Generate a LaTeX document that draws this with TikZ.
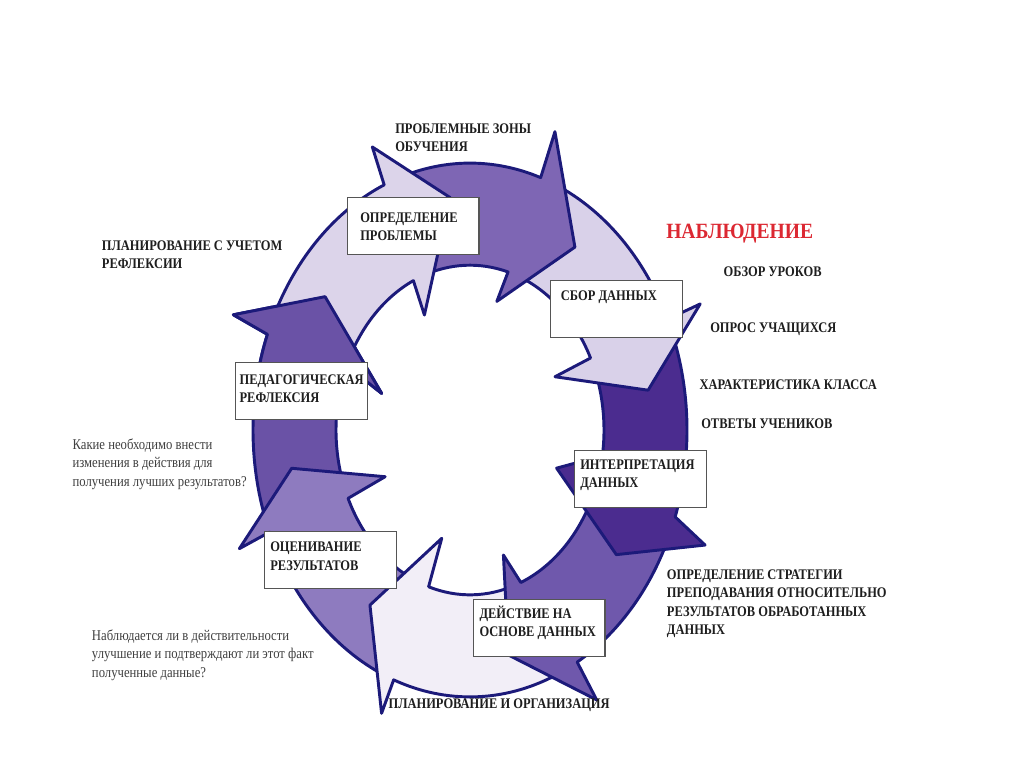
\documentclass[tikz,border=0pt]{standalone}
\usepackage{fontspec}
\setmainfont{Liberation Serif}
\newfontfamily\lblfont[FakeStretch=0.85]{Liberation Serif}
\newfontfamily\ttlfont[FakeStretch=0.9]{Liberation Serif}
\definecolor{ringline}{HTML}{1C1A7A}
\definecolor{boxline}{HTML}{555555}
\definecolor{lblcol}{HTML}{1E1E1E}
\definecolor{qcol}{HTML}{404040}
\definecolor{titlered}{HTML}{DC2832}
\definecolor{cA}{HTML}{DCD4EA}
\definecolor{cB}{HTML}{7E66B4}
\definecolor{cC}{HTML}{D9D1E9}
\definecolor{cD}{HTML}{4B2C8F}
\definecolor{cE}{HTML}{6F58AC}
\definecolor{cF}{HTML}{F2EEF7}
\definecolor{cG}{HTML}{8E7BBF}
\definecolor{cH}{HTML}{6A52A6}
\newcommand{\Ro}{217}
\newcommand{\Ri}{134}
% color, tail outer angle, tail inner angle, outer notch angle, outer barb, tip, inner barb, inner notch angle
\newcommand{\ringarrow}[8]{%
  \draw[ring, fill=#1] (#2:\Ro) arc[start angle=#2, end angle=#4, radius=\Ro]
    -- (#5) -- (#6) -- (#7) -- (#8:\Ri) arc[start angle=#8, end angle=#3, radius=\Ri] -- cycle;}
\begin{document}
\begin{tikzpicture}[x=0.75pt,y=-0.75pt,
  ring/.style={draw=ringline, line width=2.2pt, line join=round},
  box/.style={draw=boxline, line width=0.8pt, fill=white, inner sep=0pt, anchor=north west,
              minimum width=98.8pt, minimum height=43pt},
  lbl/.style={font=\lblfont\bfseries\fontsize{11}{13}\selectfont, text=lblcol, inner sep=0pt, anchor=base west},
  qst/.style={font=\lblfont\fontsize{11.2}{13}\selectfont, text=qcol, inner sep=0pt, anchor=base west},
  ttl/.style={font=\ttlfont\bfseries\fontsize{16.3}{18}\selectfont, text=titlered, inner sep=0pt, anchor=base west}]
\useasboundingbox (0,0) rectangle (1024,768);
\fill[white] (0,0) rectangle (1024,768);

\begin{scope}[shift={(470,430)}, yscale=-1.23]
  % drawn in reverse order so each head lies over the next tail
  \ringarrow{cH}{200}{200}{159}{158.4:254.5}{143.2:181}{161.4:93.2}{157}
  \ringarrow{cG}{247}{247}{202.5}{202.7:250}{189.9:181}{204.1:93}{204.5}
  \ringarrow{cF}{293}{290}{249.4}{249:246.7}{234.9:174}{252.2:92.5}{252}
  \ringarrow{cE}{336}{336}{299.6}{300:253.4}{281.9:187}{288.2:107}{292.3}
  \ringarrow{cD}{22}{22}{-19}{-21.7:253}{-34.7:178}{-19.7:92}{-9}
  \ringarrow{cC}{70}{72}{24.5}{24:252}{10.3:181}{27:95.4}{25.9}
  \ringarrow{cB}{110}{111}{71}{70.7:257}{54.8:182}{75.6:108}{73.5}
  \ringarrow{cA}{155}{155}{113.3}{113:250}{96:190}{116:104}{115}
  \begin{scope}
    \clip (0,0) -- (133:330) -- (150:340) -- (168:330) -- cycle;
    \ringarrow{cH}{200}{200}{159}{158.4:254.5}{143.2:181}{161.4:93.2}{157}
  \end{scope}
\end{scope}

% boxes
\node[box] (b1) at (346.7,196.7) {};
\node[box] (b2) at (550,280) {};
\node[box] (b3) at (235,361.7) {};
\node[box] (b4) at (574,450) {};
\node[box] (b5) at (264.3,531) {};
\node[box] (b6) at (472.7,599) {};

\node[lbl] (t1a) at (360,222.3) {ОПРЕДЕЛЕНИЕ};
\node[lbl] (t1b) at (360,240.3) {ПРОБЛЕМЫ};
\node[lbl] (t2a) at (560.7,300) {СБОР ДАННЫХ};
\node[lbl] (t3a) at (239.3,384) {ПЕДАГОГИЧЕСКАЯ};
\node[lbl] (t3b) at (239.3,402.3) {РЕФЛЕКСИЯ};
\node[lbl] (t4a) at (580,469) {ИНТЕРПРЕТАЦИЯ};
\node[lbl] (t4b) at (580,487) {ДАННЫХ};
\node[lbl] (t5a) at (270,551.7) {ОЦЕНИВАНИЕ};
\node[lbl] (t5b) at (270,570) {РЕЗУЛЬТАТОВ};
\node[lbl] (t6a) at (479.3,618.3) {ДЕЙСТВИЕ НА};
\node[lbl] (t6b) at (479.3,636.7) {ОСНОВЕ ДАННЫХ};

% outer labels
\node[lbl] (p1) at (395,133) {ПРОБЛЕМНЫЕ ЗОНЫ};
\node[lbl] (p2) at (395,151) {ОБУЧЕНИЯ};
\node[ttl] (nab) at (666,238.5) {НАБЛЮДЕНИЕ};
\node[lbl] (o1) at (723.3,276) {ОБЗОР УРОКОВ};
\node[lbl] (o2) at (710,332.7) {ОПРОС УЧАЩИХСЯ};
\node[lbl] (o3) at (699.3,389) {ХАРАКТЕРИСТИКА КЛАССА};
\node[lbl] (o4) at (701,428.3) {ОТВЕТЫ УЧЕНИКОВ};
\node[lbl] (s1) at (666.7,579.5) {ОПРЕДЕЛЕНИЕ СТРАТЕГИИ};
\node[lbl] (s2) at (666.7,597.8) {ПРЕПОДАВАНИЯ ОТНОСИТЕЛЬНО};
\node[lbl] (s3) at (666.7,616.1) {РЕЗУЛЬТАТОВ ОБРАБОТАННЫХ};
\node[lbl] (s4) at (666.7,634.4) {ДАННЫХ};
\node[lbl] (po) at (388.3,708.3) {ПЛАНИРОВАНИЕ И ОРГАНИЗАЦИЯ};
\node[lbl] (pr1) at (101.7,250) {ПЛАНИРОВАНИЕ С УЧЕТОМ};
\node[lbl] (pr2) at (101.7,268.5) {РЕФЛЕКСИИ};
\node[qst] (q1) at (72.3,449.3) {Какие необходимо внести};
\node[qst] (q2) at (72.3,467.8) {изменения в действия для};
\node[qst] (q3) at (72.3,486.3) {получения лучших результатов?};
\node[qst] (r1) at (91.7,640) {Наблюдается ли в действительности};
\node[qst] (r2) at (91.7,658.5) {улучшение и подтверждают ли этот факт};
\node[qst] (r3) at (91.7,677) {полученные данные?};
\end{tikzpicture}
\end{document}
